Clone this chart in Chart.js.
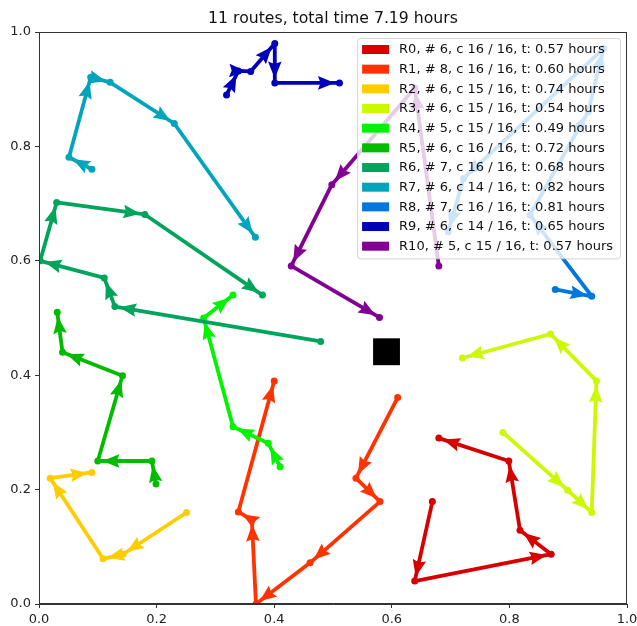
<!DOCTYPE html>
<html>
<head>
<meta charset="utf-8">
<script src="https://cdn.jsdelivr.net/npm/chart.js@4.4.1/dist/chart.umd.min.js"></script>
<style>
  html, body { margin: 0; padding: 0; background: #fff; }
  canvas { display: block; }
</style>
</head>
<body>
<canvas id="routes" width="637" height="626"></canvas>
<script>
// Routes, in driving order ([x, y])
const route0  = [[0.669, 0.179], [0.639, 0.040], [0.871, 0.087], [0.818, 0.129], [0.799, 0.250], [0.680, 0.290]];
const route1  = [[0.610, 0.361], [0.539, 0.220], [0.580, 0.179], [0.461, 0.072], [0.369, 0.000], [0.362, 0.147], [0.339, 0.161], [0.400, 0.390]];
const route2  = [[0.251, 0.160], [0.143, 0.087], [0.109, 0.079], [0.019, 0.220], [0.090, 0.230]];
const route3  = [[0.789, 0.300], [0.899, 0.199], [0.940, 0.160], [0.948, 0.390], [0.870, 0.472], [0.720, 0.430]];
const route4  = [[0.410, 0.240], [0.390, 0.281], [0.330, 0.310], [0.280, 0.500], [0.330, 0.540]];
const route5  = [[0.199, 0.210], [0.192, 0.250], [0.100, 0.250], [0.142, 0.399], [0.040, 0.440], [0.031, 0.510]];
const route6  = [[0.479, 0.459], [0.129, 0.520], [0.111, 0.570], [0.002, 0.600], [0.030, 0.702], [0.180, 0.681], [0.380, 0.540]];
const route7  = [[0.090, 0.760], [0.051, 0.781], [0.088, 0.921], [0.121, 0.912], [0.230, 0.840], [0.368, 0.641]];
const route8  = [[0.878, 0.550], [0.940, 0.538], [0.835, 0.680], [0.934, 0.861], [0.960, 0.971], [0.722, 0.744], [0.696, 0.651]];
const route9  = [[0.319, 0.890], [0.339, 0.932], [0.360, 0.931], [0.401, 0.980], [0.401, 0.911], [0.511, 0.911]];
const route10 = [[0.680, 0.591], [0.639, 0.902], [0.498, 0.733], [0.429, 0.591], [0.579, 0.501]];
const depot   = [0.591, 0.441];

const routeLabels = [
  'R0, # 6, c 16 / 16, t: 0.57 hours',
  'R1, # 8, c 16 / 16, t: 0.60 hours',
  'R2, # 6, c 15 / 16, t: 0.74 hours',
  'R3, # 6, c 15 / 16, t: 0.54 hours',
  'R4, # 5, c 15 / 16, t: 0.49 hours',
  'R5, # 6, c 16 / 16, t: 0.72 hours',
  'R6, # 7, c 16 / 16, t: 0.68 hours',
  'R7, # 6, c 14 / 16, t: 0.82 hours',
  'R8, # 7, c 16 / 16, t: 0.81 hours',
  'R9, # 6, c 14 / 16, t: 0.65 hours',
  'R10, # 5, c 15 / 16, t: 0.57 hours'
];
const routeColors = [
  'rgb(215,0,0)', 'rgb(255,51,0)', 'rgb(255,204,0)', 'rgb(204,249,0)',
  'rgb(0,244,0)', 'rgb(0,187,0)', 'rgb(0,164,91)', 'rgb(0,164,187)',
  'rgb(0,119,221)', 'rgb(0,0,187)', 'rgb(130,0,147)'
];
const titleText  = '11 routes, total time 7.19 hours';
const tickValues = [0, 0.2, 0.4, 0.6, 0.8, 1.0];

const routes = [route0, route1, route2, route3, route4, route5, route6, route7, route8, route9, route10];
const FONT = '"DejaVu Sans", "Liberation Sans", sans-serif';

// Pfeilspitzen am Ende jedes Segments (nach dem jeweiligen Datensatz zeichnen)
const arrowPlugin = {
  id: 'arrows',
  afterDatasetDraw(chart, args) {
    const ds = chart.data.datasets[args.index];
    if (!ds.isRoute) return;
    const pts = args.meta.data;
    const ctx = chart.ctx;
    ctx.save();
    ctx.fillStyle = ds.borderColor;
    for (let i = 0; i < pts.length - 1; i++) {
      const x1 = pts[i].x, y1 = pts[i].y, x2 = pts[i + 1].x, y2 = pts[i + 1].y;
      const len = Math.hypot(x2 - x1, y2 - y1);
      if (len < 1) continue;
      const ux = (x2 - x1) / len, uy = (y2 - y1) / len;
      const nx = -uy, ny = ux;
      const tx = x2 - ux * 4.5, ty = y2 - uy * 4.5;
      const L = 17, W = 6.8;
      ctx.beginPath();
      ctx.moveTo(tx, ty);
      ctx.lineTo(tx - ux * L + nx * W, ty - uy * L + ny * W);
      ctx.lineTo(tx - ux * (L - 2.5), ty - uy * (L - 2.5));
      ctx.lineTo(tx - ux * L - nx * W, ty - uy * L - ny * W);
      ctx.closePath();
      ctx.fill();
    }
    ctx.restore();
  }
};

// Rahmen, Titel und Legende (matplotlib-Stil)
const framePlugin = {
  id: 'frame',
  afterDraw(chart) {
    const ctx = chart.ctx;
    const ca = chart.chartArea;
    ctx.save();
    ctx.strokeStyle = '#333';
    ctx.lineWidth = 1;
    ctx.strokeRect(Math.round(ca.left) + 0.5, Math.round(ca.top) + 0.5,
                   Math.round(ca.right - ca.left) - 1, Math.round(ca.bottom - ca.top) - 1);

    // Titel
    ctx.fillStyle = '#111';
    ctx.font = '15.7px ' + FONT;
    ctx.textAlign = 'center';
    ctx.textBaseline = 'alphabetic';
    ctx.fillText(titleText, (ca.left + ca.right) / 2, ca.top - 9);

    // Legende
    ctx.font = '13px ' + FONT;
    const maxW = Math.max(...routeLabels.map(t => ctx.measureText(t).width));
    const rowH = 19.67;
    const boxR = ca.right - 7;
    const boxL = boxR - (42 + maxW + 7);
    const boxT = ca.top + 6;
    const boxH = rowH * routeLabels.length + 4;
    ctx.beginPath();
    ctx.roundRect(boxL + 0.5, boxT + 0.5, boxR - boxL, boxH, 3);
    ctx.fillStyle = 'rgba(255,255,255,0.8)';
    ctx.fill();
    ctx.strokeStyle = 'rgba(204,204,204,0.8)';
    ctx.stroke();
    ctx.textAlign = 'left';
    ctx.textBaseline = 'middle';
    routeLabels.forEach((label, i) => {
      const cy = boxT + 11.5 + i * rowH;
      ctx.fillStyle = routeColors[i];
      ctx.fillRect(boxL + 5, cy - 4.5, 27, 9);
      ctx.fillStyle = '#111';
      ctx.fillText(label, boxL + 42, cy + 0.5);
    });
    ctx.restore();
  }
};

const datasets = routes.map((r, i) => ({
  label: routeLabels[i],
  isRoute: true,
  data: r.map(([x, y]) => ({ x, y })),
  borderColor: routeColors[i],
  backgroundColor: routeColors[i],
  borderWidth: 3.8,
  borderJoinStyle: 'round',
  pointRadius: 3.5,
  pointHoverRadius: 3.5,
  pointBorderWidth: 0,
  tension: 0,
  fill: false,
  order: -i
}));
datasets.push({
  label: 'Depot',
  data: [{ x: depot[0], y: depot[1] }],
  showLine: false,
  pointStyle: 'rect',
  pointRadius: 19,
  pointHoverRadius: 19,
  pointBorderWidth: 0,
  backgroundColor: '#000',
  borderColor: '#000',
  order: 5
});

const axis = (fit) => ({
  type: 'linear',
  min: 0,
  max: 1,
  afterBuildTicks: (s) => { s.ticks = tickValues.map(v => ({ value: v })); },
  afterFit: (s) => {
    fit(s);
    s.paddingLeft = 0; s.paddingRight = 0; s.paddingTop = 0; s.paddingBottom = 0;
  },
  grid: { display: true, drawOnChartArea: false, drawTicks: true, tickLength: 4, color: '#333' },
  border: { display: true, color: '#333' },
  ticks: {
    font: { family: FONT, size: 13 },
    color: '#222',
    padding: 4,
    maxRotation: 0,
    callback: (v) => Number(v).toFixed(1)
  }
});

new Chart(document.getElementById('routes'), {
  type: 'line',
  data: { datasets },
  options: {
    responsive: false,
    animation: false,
    devicePixelRatio: 1,
    layout: { autoPadding: false, padding: { top: 32, right: 10, left: 0, bottom: 0 } },
    scales: {
      x: axis((s) => { s.height = 22; }),
      y: axis((s) => { s.width = 39; })
    },
    plugins: {
      legend: { display: false },
      tooltip: { enabled: false },
      title: { display: false }
    }
  },
  plugins: [arrowPlugin, framePlugin]
});
</script>
</body>
</html>
